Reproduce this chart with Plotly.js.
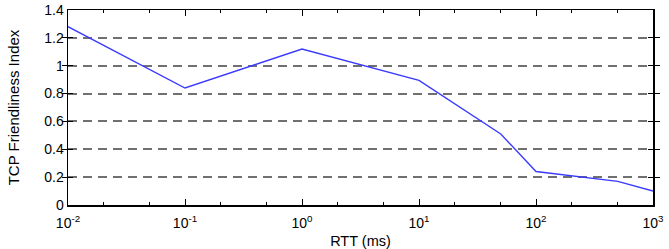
<!DOCTYPE html>
<html><head><meta charset="utf-8">
<script src="https://cdn.plot.ly/plotly-3.0.1.min.js"></script>
<style>html,body{margin:0;padding:0;background:#fff;}#chart{width:669px;height:249px;}</style>
</head><body><div id="chart"></div>
<script>
const rtt = [0.01, 0.1, 1, 10, 50, 100, 500, 1000];
const friendliness = [1.28, 0.84, 1.12, 0.895, 0.51, 0.24, 0.17, 0.10];
const xTickVals = [0.01, 0.1, 1, 10, 100, 1000];
const xTickText = ['10<sup>-2</sup>', '10<sup>-1</sup>', '10<sup>0</sup>', '10<sup>1</sup>', '10<sup>2</sup>', '10<sup>3</sup>'];

const data = [
  {x: rtt, y: friendliness, type: 'scatter', mode: 'lines',
   line: {color: '#3a3aff', width: 1.4}, hoverinfo: 'skip'},
  {x: rtt, y: friendliness, xaxis: 'x2', type: 'scatter', mode: 'lines',
   line: {color: 'rgba(0,0,0,0)', width: 0}, hoverinfo: 'skip'}
];
const layout = {
  width: 669, height: 249,
  margin: {l: 68, r: 16, t: 10, b: 44},
  paper_bgcolor: '#fff', plot_bgcolor: '#fff',
  font: {family: 'Liberation Sans, Arial, sans-serif', size: 14, color: '#000'},
  showlegend: false,
  xaxis: {
    type: 'log', range: [-2, 3], tickvals: xTickVals, ticktext: xTickText,
    ticks: 'inside', ticklen: 6, tickwidth: 1, tickcolor: '#000',
    showline: true, linecolor: '#000', linewidth: 1.5, mirror: true,
    showgrid: false, zeroline: false, ticklabelstandoff: 5,
    minor: {ticks: 'inside', ticklen: 3, tickcolor: '#000', showgrid: false},
    tickfont: {size: 14},
    title: {text: 'RTT (ms)', font: {size: 14.5}, standoff: 7}
  },
  xaxis2: {
    type: 'log', range: [-2, 3], overlaying: 'x', side: 'top',
    tickvals: xTickVals, showticklabels: false,
    ticks: 'inside', ticklen: 6, tickwidth: 1, tickcolor: '#000',
    showline: false, showgrid: false, zeroline: false,
    minor: {ticks: 'inside', ticklen: 3, tickcolor: '#000', showgrid: false}
  },
  yaxis: {
    range: [0, 1.4], dtick: 0.2, tick0: 0,
    ticks: 'inside', ticklen: 5, tickcolor: '#000',
    showline: true, linecolor: '#000', linewidth: 1.5, mirror: 'allticks',
    showgrid: true, gridcolor: '#707070', gridwidth: 2, griddash: '9px,6px',
    zeroline: false,
    tickfont: {size: 14},
    title: {text: 'TCP Friendliness Index', font: {size: 15}, standoff: 21}
  }
};
Plotly.newPlot('chart', data, layout, {displayModeBar: false, staticPlot: true});
</script></body></html>
